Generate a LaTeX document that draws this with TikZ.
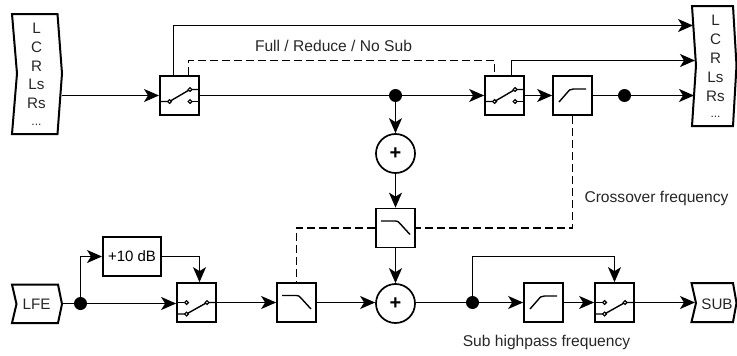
\documentclass[tikz,border=0pt]{standalone}
\usepackage{fontspec}
\setmainfont{Liberation Sans}
\usetikzlibrary{arrows.meta,calc}
\tikzset{
  thinbox/.style={draw,line width=1.7pt,minimum width=39pt,minimum height=39pt,inner sep=0pt,fill=white},
  thickbox/.style={thinbox,line width=2pt},
  port/.style={draw,line width=2pt,line join=miter},
  lbl/.style={font=\fontsize{15.6}{17}\selectfont,inner sep=0pt,text=black!85},
  portlbl/.style={font=\fontsize{15.2}{17}\selectfont,inner sep=0pt,text=black!85},
  wire/.style={line width=1.5pt},
  sig/.style={wire,-{Stealth[length=15pt,width=13pt,inset=4pt]}},
  ctrl/.style={line width=1.5pt,dash pattern=on 8pt off 4pt},
  blob/.style={circle,fill=black,minimum size=13pt,inner sep=0pt},
  summer/.style={circle,draw,line width=1.7pt,minimum size=39pt,inner sep=0pt,fill=white,font=\fontsize{20}{20}\selectfont\bfseries},
  glyph/.style={line width=1.4pt},
  contact/.style={line width=1.2pt,fill=white},
}
% switch glyph with outputs on the right: arm goes up to the upper contact
\newcommand{\swright}[1]{%
  \draw[glyph] ($(#1.center)+(-19.5,6)$) -- ($(#1.center)+(-10,6)$) -- ($(#1.center)+(10.5,-6)$) -- ($(#1.center)+(19.5,-6)$);
  \draw[glyph] ($(#1.center)+(10.5,6)$) -- ($(#1.center)+(19.5,6)$);
  \foreach \a/\b in {-10/6,10.5/-6,10.5/6}{\draw[contact] ($(#1.center)+(\a,\b)$) circle[radius=1.9pt];}
}
% switch glyph with inputs on the left
\newcommand{\swleft}[1]{%
  \draw[glyph] ($(#1.center)+(-19.5,0)$) -- ($(#1.center)+(-10,0)$);
  \draw[glyph] ($(#1.center)+(-19.5,11.5)$) -- ($(#1.center)+(-10,11.5)$) -- ($(#1.center)+(10.5,0)$) -- ($(#1.center)+(19.5,0)$);
  \foreach \a/\b in {-10/0,-10/11.5,10.5/0}{\draw[contact] ($(#1.center)+(\a,\b)$) circle[radius=1.9pt];}
}
\newcommand{\hpglyph}[1]{%
  \draw[glyph] ($(#1.center)+(-13.5,6.5)$) -- ($(#1.center)+(-3,-5.5)$) to[out=35,in=180] ($(#1.center)+(1,-6.5)$) -- ($(#1.center)+(13.5,-6.5)$);
}
\newcommand{\lpglyph}[1]{%
  \draw[glyph] ($(#1.center)+(-14.5,-7)$) -- ($(#1.center)+(0,-7)$) to[out=0,in=130] ($(#1.center)+(4,-5)$) -- ($(#1.center)+(14.5,6.5)$);
}
\begin{document}
\begin{tikzpicture}[x=1pt,y=-1pt]
\useasboundingbox (0,0) rectangle (737,356);

% ports
\draw[port] (12,14) -- (57.5,14) -- (62,73.5) -- (57.5,134) -- (12,134) -- (17,73.5) -- cycle;
\coordinate (inR) at (61.5,95.5);
\node[portlbl] (inL) at (36.5,28) {L};
\node[portlbl] (inC) at (36.5,47) {C};
\node[portlbl] (inRr) at (36.5,66) {R};
\node[portlbl] (inLs) at (36.5,84) {Ls};
\node[portlbl] (inRs) at (36.5,103) {Rs};
\node[portlbl,font=\fontsize{12}{14}\selectfont] (inDots) at (36.5,125) {...};

\draw[port] (692,6) -- (733,6) -- (736.5,65.5) -- (733,126) -- (692,126) -- (696,65.5) -- cycle;
\coordinate (outA) at (693,25.5);
\coordinate (outB) at (695,60.5);
\coordinate (outC) at (694,95.5);
\node[portlbl] (oL) at (715.5,20) {L};
\node[portlbl] (oC) at (715.5,39) {C};
\node[portlbl] (oR) at (715.5,58) {R};
\node[portlbl] (oLs) at (715.5,77) {Ls};
\node[portlbl] (oRs) at (715.5,96) {Rs};
\node[portlbl,font=\fontsize{12}{14}\selectfont] (oDots) at (715.5,117) {...};

\draw[port] (12,284.5) -- (58,284.5) -- (62,304) -- (58,323) -- (12,323) -- (16.5,304) -- cycle;
\node[portlbl] (lfe) at (36.5,304.5) {LFE};
\coordinate (lfeR) at (62,303.5);

\draw[port] (691.5,283) -- (733,283) -- (736.5,303) -- (733,322) -- (691.5,322) -- (696,303) -- cycle;
\node[portlbl] (sub) at (717,304) {SUB};
\coordinate (subL) at (695,302.5);

% boxes
\node[thickbox] (swa) at (179.5,95.5) {};
\node[thinbox] (swb) at (504.5,95.5) {};
\node[thinbox] (hpa) at (572.5,95.5) {};
\node[thickbox,minimum width=58pt] (gain) at (132,256.5) {\fontsize{15}{17}\selectfont +10 dB};
\node[thinbox] (swc) at (196.5,302.5) {};
\node[thinbox] (lpb) at (296.5,302.5) {};
\node[thinbox] (lpa) at (395.5,228) {};
\node[thinbox] (hpb) at (543.5,302.5) {};
\node[thinbox] (swd) at (614.5,302.5) {};
\node[summer] (suma) at (395.5,153.5) {+};
\node[summer] (sumb) at (395.5,303.5) {+};
\node[blob] (da) at (395.5,95.5) {};
\node[blob] (db) at (624.5,95.5) {};
\node[blob] (dc) at (80.5,303.5) {};
\node[blob] (dd) at (472.5,302.5) {};

\swright{swa}\swright{swb}\swleft{swc}\swleft{swd}
\hpglyph{hpa}\hpglyph{hpb}\lpglyph{lpa}\lpglyph{lpb}

% signal wires
\draw[sig] (inR) -- (swa.west);
\draw[wire] (swa.east) -- (da);
\draw[sig] (da) -- (swb.west);
\draw[sig] (swb.east) -- (hpa.west);
\draw[wire] (hpa.east) -- (db);
\draw[sig] (db) -- (outC);
\draw[sig] (swa.north -| 173.5,0) -- (173.5,25.5) -- (outA);
\draw[sig] (swb.north -| 511.5,0) -- (511.5,60.5) -- (outB);
\draw[sig] (da) -- (suma.north);
\draw[sig] (suma.south) -- (lpa.north);
\draw[sig] (lpa.south) -- (sumb.north);

\draw[wire] (lfeR) -- (dc);
\draw[sig] (dc) -- (swc.west |- dc);
\draw[sig] (dc) |- (gain.west);
\draw[sig] (gain.east) -- (199.5,256.5) -- (swc.north -| 199.5,0);
\draw[sig] (swc.east) -- (lpb.west);
\draw[sig] (lpb.east) -- (sumb.west |- lpb.east);
\draw[wire] (sumb.east |- dd) -- (dd);
\draw[sig] (dd) -- (hpb.west);
\draw[sig] (hpb.east) -- (swd.west);
\draw[sig] (dd) |- (614.5,256.5) -- (swd.north);
\draw[sig] (swd.east) -- (subL);

% control lines
\draw[ctrl] (swa.north -| 188.5,0) -- (188.5,60.5) -- (494.5,60.5) -- (swb.north -| 494.5,0);
\draw[ctrl] (hpa.south) -- (hpa.south |- lpa.east) -- (lpa.east);
\draw[ctrl] (lpa.west) -- (lpb.north |- lpa.west) -- (lpb.north);

% labels
\node[lbl] (t1) at (333.5,46) {Full / Reduce / No Sub};
\node[lbl] (t2) at (656.5,198.5) {Crossover frequency};
\node[lbl] (t3) at (546.5,342.5) {Sub highpass frequency};
\end{tikzpicture}
\end{document}
